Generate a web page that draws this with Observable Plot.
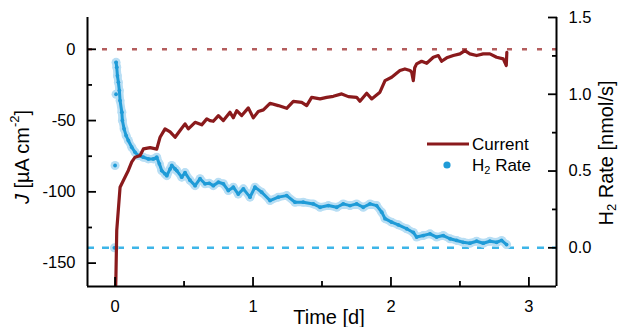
<!DOCTYPE html>
<html>
<head>
<meta charset="utf-8">
<script src="https://cdn.jsdelivr.net/npm/d3@7"></script>
<script src="https://cdn.jsdelivr.net/npm/@observablehq/plot@0.6"></script>
<style>
  html, body { margin: 0; padding: 0; background: white; }
  svg { display: block; }
</style>
</head>
<body>
<div id="chart"></div>
<script>
// ---- Data ----
const currentTime = [0, 0.006, 0.012, 0.036, 0.06, 0.096, 0.121, 0.145, 0.181, 0.205, 0.254, 0.302, 0.326, 0.362, 0.399, 0.435, 0.471, 0.507, 0.531, 0.58, 0.628, 0.665, 0.688,
  0.712, 0.749, 0.785, 0.833, 0.857, 0.882, 0.918, 0.966, 1.002, 1.038, 1.075, 1.123, 1.183, 1.244, 1.292, 1.353, 1.389, 1.425, 1.486, 1.534, 1.582, 1.643, 1.691, 1.751, 1.775, 1.824, 1.860, 1.920, 1.957, 2.005, 2.065,
  2.101, 2.138, 2.150, 2.162, 2.172, 2.186, 2.222, 2.259, 2.307, 2.343, 2.367, 2.404, 2.452, 2.5, 2.536, 2.572, 2.621, 2.669, 2.717, 2.766, 2.814, 2.836, 2.840];
const currentJ = [-185, -160, -127, -96.8, -92, -85, -79, -75.7, -74.5, -69.9, -69, -70, -61.7, -55.8, -58, -61.7, -57, -52.3, -55.8, -51.2, -53, -48.8, -50,
  -50.5, -46.5, -50, -44.2, -48, -43, -46.5, -41.1, -48.1, -43.7, -42.5, -37.9, -39.5, -41.4, -36.5, -37.2, -39.5, -33.7, -34.8, -33.7, -33, -31.3, -33.2, -33.7, -36.5, -30.8, -34.8, -30.1, -22, -19.6, -14.9,
  -13.8, -14.9, -16, -22, -13, -10.2, -8.4, -9.8, -5.6, -4.4, -8.4, -6, -4.4, -3.2, -0.9, -3.2, -4.4, -3.2, -3.2, -5.6, -6.7, -11.4, -2.1];

const h2Time = [0.007, 0.012, 0.017, 0.024, 0.031, 0.036, 0.049, 0.053, 0.065, 0.08, 0.096, 0.121, 0.145, 0.169, 0.205, 0.241, 0.278, 0.302, 0.321, 0.338, 0.362, 0.375, 0.399, 0.411, 0.435, 0.447, 0.483, 0.507, 0.543, 0.58, 0.616, 0.652, 0.683,
  0.712, 0.749, 0.785, 0.821, 0.857, 0.893, 0.93, 0.978, 1.014, 1.063, 1.123, 1.183, 1.244, 1.304, 1.364, 1.437, 1.486, 1.546, 1.607, 1.654, 1.703, 1.751, 1.799, 1.848, 1.896, 1.933, 1.957, 2.005, 2.053,
  2.114, 2.162, 2.186, 2.234, 2.283, 2.331, 2.379, 2.428, 2.476, 2.524, 2.572, 2.621, 2.669, 2.717, 2.766, 2.802, 2.838];
const h2Rate = [1.208, 1.176, 1.12, 1.078, 1.024, 0.959, 0.883, 0.829, 0.775, 0.731, 0.699, 0.655, 0.622, 0.601, 0.59, 0.579, 0.579, 0.59, 0.547, 0.503, 0.482, 0.47, 0.514, 0.536, 0.514, 0.503, 0.46, 0.49, 0.44, 0.405, 0.45, 0.417, 0.42,
  0.405, 0.427, 0.417, 0.373, 0.395, 0.35, 0.384, 0.33, 0.395, 0.362, 0.308, 0.33, 0.34, 0.297, 0.297, 0.286, 0.264, 0.275, 0.264, 0.286, 0.275, 0.286, 0.264, 0.286, 0.275, 0.232, 0.19, 0.167, 0.15,
  0.124, 0.10, 0.07, 0.08, 0.091, 0.07, 0.08, 0.059, 0.048, 0.036, 0.03, 0.043, 0.03, 0.043, 0.036, 0.048, 0.021];
// isolated early H2 points
const h2ExtraTime = [-0.005, 0.0, 0.007];
const h2ExtraRate = [0.0, 0.536, 1.0];

const jMajorTicks = [0, -50, -100, -150];
const jMinorTicks = [-25, -75, -125];
const rMajorTicks = [0, 0.5, 1.0, 1.5];
const rMinorTicks = [0.25, 0.75, 1.25];
const tMajorTicks = [0, 1, 2, 3];
const tMinorTicks = [0.5, 1.5, 2.5];

// ---- Scales ----
const jDomain = [-166.4, 22.3];
const rDomain = [-0.252, 1.5];
const tDomain = [-0.2, 3.2];
const toJ = r => jDomain[0] + (r - rDomain[0]) * (jDomain[1] - jDomain[0]) / (rDomain[1] - rDomain[0]);

const current = currentTime.map((t, i) => ({t, j: currentJ[i]}));
const h2 = h2Time.map((t, i) => ({t, j: toJ(h2Rate[i])}));
const h2Extra = h2ExtraTime.map((t, i) => ({t, j: toJ(h2ExtraRate[i])}));
const h2All = h2Extra.concat(h2);

const RED = "#8a1a1c";
const BLUE = "#1f9bd7";
const HALO = "#b8def4";
const FONT = "'Liberation Sans', Arial, Helvetica, sans-serif";
const axisW = 1.8;

const plot = Plot.plot({
  width: 619, height: 327,
  marginLeft: 87, marginRight: 63, marginTop: 17, marginBottom: 41,
  x: {domain: tDomain, label: null},
  y: {domain: jDomain, label: null},
  style: {fontFamily: FONT, fontSize: "16.5px", background: "white", color: "black", overflow: "visible"},
  marks: [
    Plot.ruleY([0], {stroke: "#b45d5d", strokeWidth: 2.6, strokeDasharray: "5,10"}),
    Plot.ruleY([toJ(0)], {stroke: "#3db5e8", strokeWidth: 2.6, strokeDasharray: "7,8"}),
    Plot.line(h2, {x: "t", y: "j", stroke: HALO, strokeWidth: 8, strokeLinejoin: "round", strokeLinecap: "round"}),
    Plot.dot(h2All, {x: "t", y: "j", r: 4.5, fill: HALO, stroke: null}),
    Plot.line(h2, {x: "t", y: "j", stroke: BLUE, strokeWidth: 3, strokeLinejoin: "round"}),
    Plot.dot(h2All, {x: "t", y: "j", r: 1.9, fill: BLUE, stroke: null}),
    Plot.line(current, {x: "t", y: "j", stroke: RED, strokeWidth: 3.2, strokeLinejoin: "round", clip: true}),
    // frame lines
    Plot.ruleX([tDomain[0], tDomain[1]], {stroke: "black", strokeWidth: 2}),
    Plot.ruleY([jDomain[0]], {stroke: "black", strokeWidth: 2}),
    // left axis
    Plot.axisY(jMajorTicks, {anchor: "left", tickSize: -9, tickPadding: 21, strokeWidth: axisW, tickFormat: d => String(d), label: null}),
    Plot.axisY(jMinorTicks, {anchor: "left", tickSize: -5, strokeWidth: axisW, tickFormat: () => "", label: null}),
    // right axis
    Plot.axisY(rMajorTicks.map(toJ), {anchor: "right", tickSize: -9, tickPadding: 21, strokeWidth: axisW, tickFormat: (d, i) => rMajorTicks[i].toFixed(1), label: null}),
    Plot.axisY(rMinorTicks.map(toJ), {anchor: "right", tickSize: -5, strokeWidth: axisW, tickFormat: () => "", label: null}),
    // bottom axis
    Plot.axisX(tMajorTicks, {anchor: "bottom", tickSize: -9, tickPadding: 23, strokeWidth: axisW, tickFormat: d => String(d), label: null}),
    Plot.axisX(tMinorTicks, {anchor: "bottom", tickSize: -5, strokeWidth: axisW, tickFormat: () => "", label: null})
  ]
});

document.getElementById("chart").appendChild(plot);

// ---- Titles and legend (rich text) ----
const svg = d3.select(plot);
const g = svg.append("g").attr("font-family", FONT).attr("fill", "black");

// left title
const lt = g.append("text")
  .attr("transform", "translate(22,157) rotate(-90)")
  .attr("text-anchor", "middle").attr("dominant-baseline", "central")
  .attr("font-size", 20);
lt.append("tspan").attr("font-style", "italic").text("J");
lt.append("tspan").text(" [µA cm");
lt.append("tspan").attr("font-size", 13).attr("dy", -8).text("-2");
lt.append("tspan").attr("dy", 8).text("]");

// right title
const rt = g.append("text")
  .attr("transform", "translate(606,153) rotate(-90)")
  .attr("text-anchor", "middle").attr("dominant-baseline", "central")
  .attr("font-size", 20);
rt.append("tspan").text("H");
rt.append("tspan").attr("font-size", 13).attr("dy", 5).text("2");
rt.append("tspan").attr("dy", -5).text(" Rate [nmol/s]");

// x title
g.append("text").attr("x", 329).attr("y", 324)
  .attr("text-anchor", "middle").attr("font-size", 20).text("Time [d]");

// legend
const lg = g.append("g").attr("font-size", 17).attr("text-anchor", "start");
lg.append("line").attr("x1", 427).attr("x2", 469).attr("y1", 144).attr("y2", 144)
  .attr("stroke", RED).attr("stroke-width", 3.2);
lg.append("text").attr("x", 472).attr("y", 144).attr("dominant-baseline", "central").text("Current");
lg.append("circle").attr("cx", 447).attr("cy", 165).attr("r", 3.6).attr("fill", BLUE);
const l2 = lg.append("text").attr("x", 472).attr("y", 165).attr("dominant-baseline", "central");
l2.append("tspan").text("H");
l2.append("tspan").attr("font-size", 11).attr("dy", 5).text("2");
l2.append("tspan").attr("dy", -5).text(" Rate");
</script>
</body>
</html>
